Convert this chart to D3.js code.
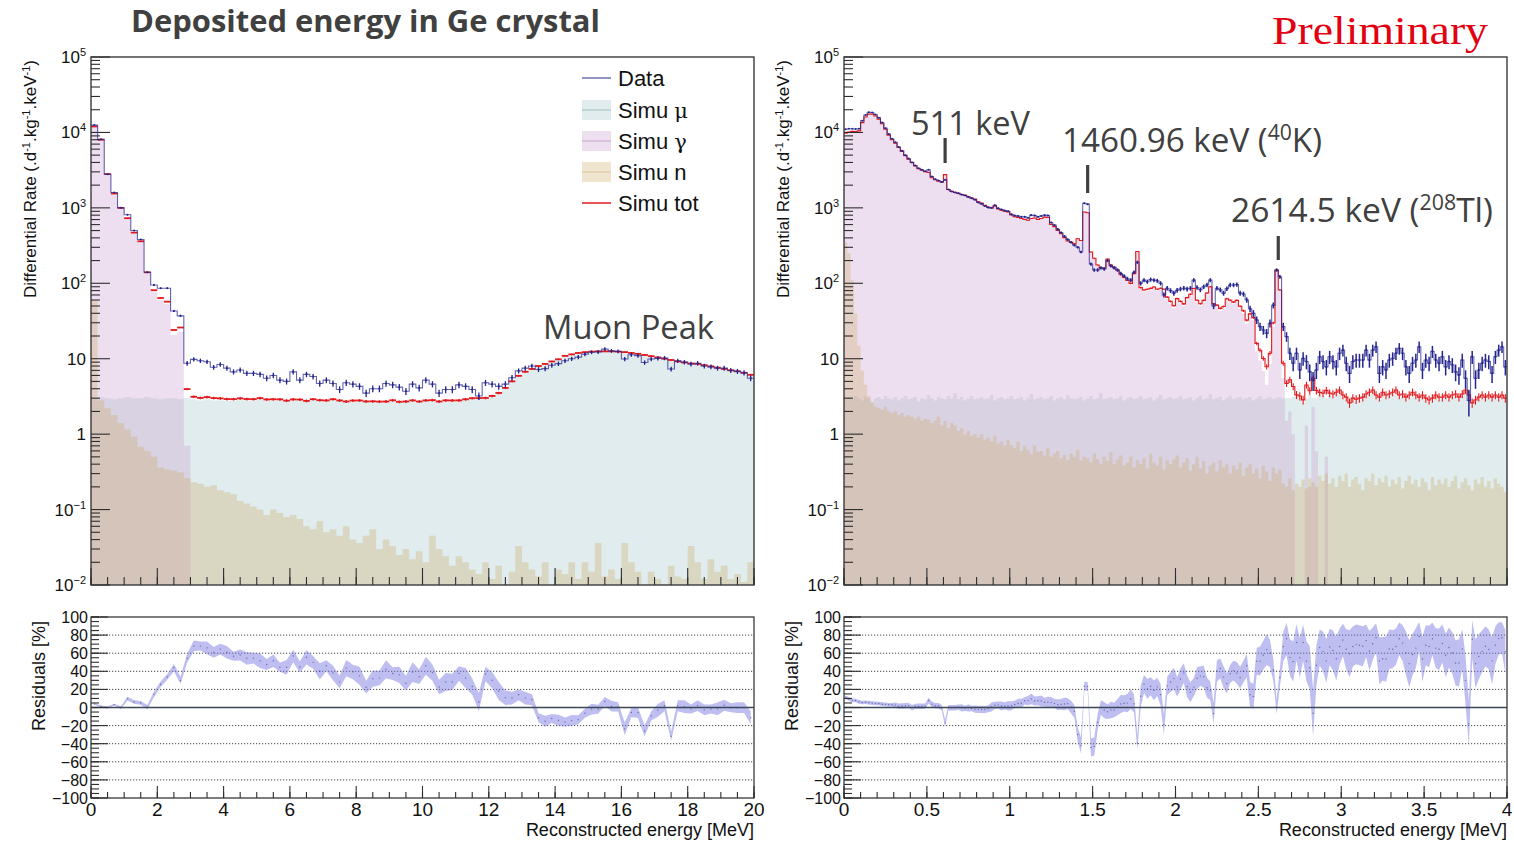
<!DOCTYPE html>
<html><head><meta charset="utf-8">
<script src="https://cdn.jsdelivr.net/npm/d3@7"></script>
<style>
body{margin:0;background:#fff}
svg{display:block;font-family:"Liberation Sans",Arial,sans-serif}
</style>
</head><body>
<svg id="c" width="1514" height="842"></svg>
<script>
// ---- Full range spectrum, 0-20 MeV, 0.2 MeV bins (d^-1 kg^-1 keV^-1) ----
const leftData = [
 12500,8100,2800,1600,1000,810,500,380,140,95,
 86,86,43,37,8.7,9.8,9.4,9.1,7.7,8.4,
 7.5,6.7,7.1,6.4,6.4,6.2,5.5,6.0,5.2,5.0,
 6.7,5.2,6.2,5.8,4.7,5.2,4.7,3.9,4.8,4.6,
 4.3,3.5,4.0,4.0,4.7,4.5,4.2,3.7,4.6,4.1,
 5.2,4.6,3.5,3.9,3.9,4.5,4.3,3.9,3.2,4.8,
 4.6,4.3,4.6,5.6,6.9,7.5,8.0,7.2,7.4,8.2,
 8.6,9.4,10.0,10.5,11.5,12.2,12.3,13.4,12.7,12.5,
 9.9,11.3,11.0,8.9,9.9,10.1,10.2,7.3,9.4,9.0,
 8.5,8.7,8.0,7.8,7.5,7.5,7.0,6.8,6.5,5.5];
const leftMu = [
 3.0,3.1,3.0,2.9,3.0,3.1,3.0,3.0,3.1,3.0,
 2.9,3.0,3.0,2.9,3.0,2.9,2.8,2.9,2.8,2.8,
 2.75,2.75,2.85,2.8,2.8,2.9,2.8,2.8,2.8,2.7,
 2.8,2.8,2.7,2.85,2.75,2.75,2.85,2.75,2.65,2.75,
 2.76,2.67,2.67,2.67,2.67,2.78,2.66,2.68,2.78,2.68,
 2.78,2.78,2.68,2.78,2.78,2.78,2.88,2.98,2.99,3.0,
 3.2,3.5,4.1,5.0,5.9,6.7,7.3,8.0,8.5,9.2,
 9.8,10.9,11.4,11.9,12.2,12.4,12.5,12.5,12.5,12.4,
 12.2,11.9,11.6,11.2,10.8,10.4,10.0,9.6,9.2,8.9,
 8.6,8.5,8.2,7.9,7.6,7.3,7.0,6.8,6.5,6.1];
const leftGamma = [
 11940,7994,2795,1545,996,726,466,357,136,77.5,
 60.6,53.7,20.7,22.7,0.7,0,0,0,0,0,
 0,0,0,0,0,0,0,0,0,0,
 0,0,0,0,0,0,0,0,0,0,
 0,0,0,0,0,0,0,0,0,0,
 0,0,0,0,0,0,0,0,0,0,
 0,0,0,0,0,0,0,0,0,0,
 0,0,0,0,0,0,0,0,0,0,
 0,0,0,0,0,0,0,0,0,0,
 0,0,0,0,0,0,0,0,0,0];
const leftN = [
 60,2.8,2.2,1.8,1.4,1.15,0.93,0.68,0.6,0.5,
 0.36,0.34,0.33,0.31,0.26,0.23,0.22,0.2,0.21,0.18,
 0.17,0.16,0.13,0.12,0.11,0.1,0.085,0.1,0.09,0.08,
 0.085,0.075,0.06,0.055,0.07,0.05,0.055,0.045,0.06,0.04,
 0.036,0.045,0.055,0.03,0.04,0.033,0.025,0.03,0.022,0.028,
 0.02,0.045,0.03,0.024,0.018,0.024,0.02,0.016,0.014,0.02,
 0.012,0.018,0,0.015,0.033,0.02,0.016,0.013,0.02,0,
 0.016,0.014,0.02,0.012,0.02,0.015,0.036,0.013,0.016,0.012,
 0.036,0.02,0.015,0,0.015,0.012,0,0.018,0.013,0.012,
 0.033,0.02,0.012,0.022,0.015,0.018,0.012,0.014,0.011,0.02];
// half-width of the residual band [%]
const leftResErr = [
 1,1,1,1,1.5,2,2,2,2.5,3,
 3,3,4,4,5,6,5,7,6,6,
 7,5,6,7,6,8,6,7,5,8,
 7,6,8,7,9,6,8,7,9,8,
 10,7,9,8,10,7,9,8,11,8,
 10,9,8,10,9,8,11,9,10,8,
 9,10,8,7,6,7,6,5,6,5,
 6,5,6,5,5,6,5,5,6,5,
 7,5,6,6,5,7,6,5,6,7,
 5,6,6,5,7,6,5,6,6,7];

// ---- Low energy spectrum, 0-4 MeV, 20 keV bins ----
const rightData = [
 11000,11200,11200,11100,11200,14300,17000,18500,18400,17300,
 15700,13500,11400,9500,8250,7400,6400,5700,5000,4500,
 4000,3650,3350,3200,3050,3200,2600,2400,2300,2200,
 2350,1750,1650,1600,1560,1500,1460,1400,1340,1280,
 1180,1130,1060,1010,1000,1080,990,950,920,900,
 820,790,780,760,760,740,800,790,760,780,
 800,790,640,590,520,470,420,380,350,320,
 300,260,1150,1120,180,150,150,160,155,200,
 170,160,150,135,125,115,110,140,190,100,
 110,105,112,110,108,100,70,86,80,74,
 81,84,86,84,86,110,88,82,90,95,
 110,50,86,82,74,85,95,95,96,74,
 72,60,46,40,32.6,26.6,24,21.7,29.5,51,
 150,122,26.6,19.6,11.8,8.7,11.8,7.1,10.1,9.2,
 6.7,5.2,7.1,10.6,9.2,7.8,10.6,9.2,7.8,11.8,
 13,8.7,6.4,9.2,9.6,9.6,9.6,13,9.6,13,
 14.4,6.4,7.8,7.1,9.6,10.1,11.8,13.7,11.8,7.8,
 6.4,8.7,9.6,14.4,7.1,9.6,8.7,12.5,9.6,8.7,
 10.6,7.8,9.2,8.3,6.7,6.1,9.6,5.5,2.8,10.6,
 5.5,7.1,8.7,9.6,9.2,6.4,10.6,13,14.4,7.8];
const rightGamma = [
 9400,9900,10200,10200,10480,13490,16000,17500,17500,16500,
 15000,13000,11000,9200,8000,7200,6300,5600,4900,4400,
 4000,3600,3300,3150,3000,2950,2500,2350,2250,2200,
 2750,1750,1650,1600,1550,1500,1470,1400,1350,1300,
 1200,1150,1080,1020,990,1050,960,930,900,880,
 800,760,740,720,700,680,720,730,700,720,
 750,740,600,560,500,450,400,360,345,330,
 386,366,876,856,256,211,171,156,156,206,
 171,161,146,126,116,106,96,131,261,84,
 78,80,82,86,80,82,80,62,54,47,
 59,54,50,61,68,82,56,50,56,71,
 86,50,48,43,46,59,56,53,56,46,
 40,29,36,32,12.6,9.5,6.8,4.5,8.5,26.5,
 146,78,5.5,1.5,2.0,1.0,0,0,0,1.3,
 0.2,2.3,0.6,0,0,0.5,0,0,0,0,
 0,0,0,0,0,0,0,0,0,0,
 0,0,0,0,0,0,0,0,0,0,
 0,0,0,0,0,0,0,0,0,0,
 0,0,0,0,0,0,0,0,0,0,
 0,0,0,0,0,0,0,0,0,0];
const rightMu = [
 3.0,3.1,2.9,3.2,3.0,2.8,3.1,3.0,2.7,3.0,
 3.1,2.9,3.2,3.0,2.9,3.1,2.8,3.0,3.2,2.9,
 3.0,3.1,2.7,3.0,2.9,3.3,3.0,2.8,3.1,3.0,
 2.9,3.2,3.0,3.5,2.9,3.1,2.8,3.0,3.2,2.9,
 3.0,3.1,2.9,3.0,3.3,2.8,3.0,3.1,2.9,3.0,
 3.2,2.9,3.0,3.1,2.8,3.0,3.4,2.9,3.0,3.1,
 2.9,3.0,3.2,2.8,3.0,3.1,2.9,3.3,3.0,2.9,
 3.0,3.1,2.8,3.0,3.2,2.9,3.0,3.5,2.9,3.0,
 3.1,2.9,3.0,3.2,2.8,3.0,3.1,2.9,3.0,3.2,
 2.9,3.0,3.1,2.8,3.0,3.3,2.9,3.0,3.1,2.9,
 3.0,3.2,2.9,3.0,3.1,2.8,3.0,3.2,2.9,3.0,
 3.4,2.9,3.0,3.1,2.8,3.0,3.2,2.9,3.0,3.1,
 2.9,3.0,3.1,2.8,3.0,3.2,2.9,3.0,3.1,2.9,
 3.0,3.1,3.0,3.0,3.0,3.1,3.1,3.0,2.6,3.0,
 3.3,3.0,3.0,3.3,3.25,3.0,3.28,3.14,3.4,3.57,
 3.06,2.8,2.4,2.75,2.63,2.78,2.92,3.14,3.36,3.55,
 3.09,2.84,3.37,3.02,3.2,3.35,3.63,3.03,3.21,2.86,
 3.02,3.38,3.05,2.9,3.04,2.77,2.66,2.73,3.09,2.85,
 2.88,3.04,2.9,3.06,3.12,2.91,3.17,3.59,3.09,2.42,
 2.59,2.88,3.03,2.9,3.06,2.91,3.04,2.88,3.1,2.83];
const rightN = [
 350,250,110,40,15,7,4.5,3.2,2.6,2.3,
 2.2,2.1,2.3,2.0,1.9,2.0,1.8,1.9,1.7,1.8,
 1.7,1.6,1.7,1.5,1.6,1.55,1.4,1.5,1.7,1.3,
 1.5,1.2,1.4,1.3,1.1,1.2,1.0,1.1,0.95,1.0,
 0.9,1.0,0.85,0.9,0.8,0.95,0.75,0.8,0.7,0.85,
 0.72,0.65,0.8,0.6,0.7,0.62,0.55,0.7,0.58,0.6,
 0.52,0.65,0.5,0.55,0.6,0.48,0.53,0.45,0.55,0.5,
 0.62,0.45,0.5,0.48,0.42,0.55,0.47,0.4,0.5,0.44,
 0.58,0.4,0.46,0.52,0.38,0.42,0.5,0.36,0.45,0.4,
 0.48,0.35,0.55,0.42,0.38,0.5,0.34,0.45,0.4,0.46,
 0.52,0.36,0.42,0.48,0.33,0.4,0.5,0.35,0.44,0.3,
 0.38,0.42,0.32,0.45,0.36,0.4,0.3,0.38,0.34,0.42,
 0.28,0.36,0.4,0.3,0.35,0.26,0.38,0.32,0.24,0.36,
 0.3,0.34,0.22,0.2,0.26,0.18,0.22,0.2,0.25,0.19,
 0.26,0.23,0.2,0.28,0.24,0.3,0.22,0.26,0.2,0.28,
 0.24,0.3,0.2,0.25,0.27,0.22,0.18,0.26,0.24,0.3,
 0.21,0.26,0.23,0.28,0.2,0.25,0.22,0.27,0.19,0.24,
 0.28,0.22,0.25,0.2,0.26,0.23,0.18,0.27,0.21,0.25,
 0.22,0.26,0.2,0.24,0.28,0.19,0.23,0.26,0.21,0.18,
 0.25,0.22,0.27,0.2,0.24,0.19,0.26,0.22,0.2,0.17];
const rightResErr = [
 2,2,2,2,2,2,2,2,2,2,
 2,2,2,2,2,3,3,3,3,3,
 3,3,3,3,3,3,3,3,3,3,
 4,3,3,3,3,4,3,4,3,4,
 4,4,4,4,5,4,4,5,4,5,
 5,4,5,5,4,5,6,5,5,6,
 5,6,6,5,6,6,7,6,7,7,
 8,9,5,5,10,10,9,8,9,8,
 9,8,9,10,9,10,11,10,8,12,
 10,11,10,11,10,12,11,10,11,12,
 11,12,11,12,11,10,12,11,12,11,
 10,12,12,11,12,11,10,11,12,12,
 12,13,14,14,15,16,16,17,15,12,
 8,10,16,18,20,22,20,22,20,22,
 24,26,22,20,22,24,20,22,24,20,
 18,22,26,22,22,22,22,18,22,18,
 16,26,24,25,22,21,20,18,20,24,
 26,23,22,16,25,22,23,18,22,23,
 21,24,22,23,25,26,22,27,25,21,
 27,25,23,22,22,26,21,18,17,24];

// ---- axis ticks and labels ----
const leftXTicks = [0,2,4,6,8,10,12,14,16,18,20];
const rightXTicks = [0,0.5,1,1.5,2,2.5,3,3.5,4];
const decadeExps = [-2,-1,0,1,2,3,4,5];
const residualTicks = [-100,-80,-60,-40,-20,0,20,40,60,80,100];
const legendLabels = [["Data"],["Simu ","\u03bc"],["Simu ","\u03b3"],["Simu n"],["Simu tot"]];
const peakLabels = [
 {e:0.61, parts:[["511 keV"]]},
 {e:1.47, parts:[["1460.96 keV ("],["40","sup"],["K)"]]},
 {e:2.62, parts:[["2614.5 keV ("],["208","sup"],["Tl)"]]}
];

const exposure = 0.12;     // kg.d, sets the Poisson error of the data
const simExposure = 1.0;   // kg.d equivalent of the simulated sample

const fills = {
  mu:    {color:"rgb(130,180,185)", alpha:0.25, line:"#9fbfc2"},
  gamma: {color:"rgb(200,150,205)", alpha:0.30, line:"#c3a3c9"},
  n:     {color:"rgb(200,160,80)",  alpha:0.28, line:"#d7c59c"}
};
const dataColor = "#25258f", totColor = "#e3191d";
const annotFont = "'Open Sans','Noto Sans',sans-serif";

const mainTop = 57, mainBottom = 585, resTop = 617, resBottom = 798;
const svg = d3.select("#c");
const defs = svg.append("defs");

function fillPath(vals, bw, x, y) {
  const bottom = y.range()[0];
  let d = "", open = false;
  vals.forEach((v, i) => {
    const xa = x(i * bw), xb = x((i + 1) * bw);
    if (v > 0) {
      const yy = y(Math.max(v, 1e-3));
      if (!open) { d += `M${xa},${bottom}L${xa},${yy}`; open = true; }
      else d += `L${xa},${yy}`;
      d += `L${xb},${yy}`;
    } else if (open) { d += `L${xa},${bottom}Z`; open = false; }
  });
  if (open) d += `L${x(vals.length * bw)},${bottom}Z`;
  return d;
}

function decadeLabel(t, k) {
  if (k === 0) t.text("1");
  else if (k === 1) t.text("10");
  else {
    t.append("tspan").text("10");
    t.append("tspan").attr("dy", -7).attr("font-size", 11).text(k < 0 ? "\u2212" + (-k) : String(k));
  }
}

function drawPanel(p) {
  const x = d3.scaleLinear().domain([0, p.emax]).range([p.x0, p.x1]);
  const y = d3.scaleLog().domain([1e-2, 1e5]).range([mainBottom, mainTop]);
  const yr = d3.scaleLinear().domain([-100, 100]).range([resBottom, resTop]);
  const tot = p.mu.map((m, i) => m + p.gamma[i] + p.n[i]);
  const bwKeV = p.bw * 1000;
  const dErr = v => v > 0 ? 1 / Math.sqrt(v * bwKeV * exposure) : 0;
  const sErr = v => v > 0 ? 1 / Math.sqrt(v * bwKeV * simExposure) : 0;

  defs.append("clipPath").attr("id", "m" + p.key).append("rect")
    .attr("x", p.x0).attr("y", mainTop).attr("width", p.x1 - p.x0).attr("height", mainBottom - mainTop);
  defs.append("clipPath").attr("id", "r" + p.key).append("rect")
    .attr("x", p.x0).attr("y", resTop).attr("width", p.x1 - p.x0).attr("height", resBottom - resTop);

  // --- transparent component fills ---
  const g = svg.append("g").attr("clip-path", `url(#m${p.key})`);
  [[p.mu, fills.mu], [p.gamma, fills.gamma], [p.n, fills.n]].forEach(([vals, f]) => {
    g.append("path").attr("d", fillPath(vals, p.bw, x, y))
      .attr("fill", f.color).attr("fill-opacity", f.alpha);
  });

  // --- simulated total ---
  const tg = g.append("g").attr("stroke", totColor);
  if (p.totStep) {
    const pts = tot.map((v, i) => [x(i * p.bw), y(v)]);
    pts.push([x(tot.length * p.bw), y(tot[tot.length - 1])]);
    tg.append("path").attr("d", d3.line().curve(d3.curveStepAfter)(pts))
      .attr("fill", "none").attr("stroke-width", 1.1);
  } else {
    tg.selectAll(null).data(tot).join("line")
      .attr("x1", (v, i) => x(i * p.bw)).attr("x2", (v, i) => x((i + 1) * p.bw))
      .attr("y1", v => y(v)).attr("y2", v => y(v)).attr("stroke-width", 1.8);
  }
  tg.selectAll(null).data(tot).join("line")
    .attr("x1", (v, i) => x((i + 0.5) * p.bw)).attr("x2", (v, i) => x((i + 0.5) * p.bw))
    .attr("y1", v => y(v * (1 + sErr(v)))).attr("y2", v => y(Math.max(v * (1 - sErr(v)), 1e-3)))
    .attr("stroke-width", p.totStep ? 1.1 : 1.4);

  // --- measured data ---
  const dpts = p.data.map((v, i) => [x(i * p.bw), y(v)]);
  dpts.push([x(p.data.length * p.bw), y(p.data[p.data.length - 1])]);
  g.append("path").attr("d", d3.line().curve(d3.curveStepAfter)(dpts))
    .attr("fill", "none").attr("stroke", dataColor).attr("stroke-opacity", 0.7).attr("stroke-width", 1.1);
  g.append("g").attr("stroke", dataColor).selectAll(null).data(p.data).join("line")
    .attr("x1", (v, i) => x((i + 0.5) * p.bw)).attr("x2", (v, i) => x((i + 0.5) * p.bw))
    .attr("y1", v => y(v * (1 + dErr(v)))).attr("y2", v => y(Math.max(v * (1 - dErr(v)), 1e-3)))
    .attr("stroke-width", p.totStep ? 1.5 : 1.3);
  g.append("g").attr("fill", dataColor).selectAll(null).data(p.data).join("circle")
    .attr("cx", (v, i) => x((i + 0.5) * p.bw)).attr("cy", v => y(v)).attr("r", 1);

  // --- main frame and axes ---
  svg.append("rect").attr("x", p.x0).attr("y", mainTop).attr("width", p.x1 - p.x0)
    .attr("height", mainBottom - mainTop).attr("fill", "none").attr("stroke", "#3a3a3a").attr("stroke-width", 1.4);
  const ax = svg.append("g").attr("stroke", "#2e2e2e").attr("stroke-width", 1.1);
  const minors = d3.range(0, p.emax + 1e-9, p.xMinor);
  ax.selectAll(null).data(minors).join("line")
    .attr("x1", d => x(d)).attr("x2", d => x(d)).attr("y1", mainBottom).attr("y2", mainBottom - 8);
  ax.selectAll(null).data(p.xTicks).join("line")
    .attr("x1", d => x(d)).attr("x2", d => x(d)).attr("y1", mainBottom).attr("y2", mainBottom - 17);
  const logMinor = [];
  decadeExps.slice(0, -1).forEach(k => { for (let m = 2; m <= 9; m++) logMinor.push(m * Math.pow(10, k)); });
  ax.selectAll(null).data(logMinor).join("line")
    .attr("x1", p.x0).attr("x2", p.x0 + 9).attr("y1", d => y(d)).attr("y2", d => y(d));
  ax.selectAll(null).data(decadeExps).join("line")
    .attr("x1", p.x0).attr("x2", p.x0 + 19).attr("y1", k => y(Math.pow(10, k))).attr("y2", k => y(Math.pow(10, k)));
  decadeExps.forEach(k => {
    const t = svg.append("text").attr("x", p.x0 - 5).attr("y", y(Math.pow(10, k)) + 6)
      .attr("text-anchor", "end").attr("font-size", 17).attr("fill", "#111");
    decadeLabel(t, k);
  });
  const yt = svg.append("text").attr("transform", `translate(${p.x0 - 55},${179}) rotate(-90)`)
    .attr("text-anchor", "middle").attr("font-size", 17).attr("fill", "#111");
  [["Differential Rate (.d"], ["-1", 1], [".kg"], ["-1", 1], [".keV"], ["-1", 1], [")"]].forEach(([s, sup], i, arr) => {
    const ts = yt.append("tspan").text(s);
    if (sup) ts.attr("dy", -6).attr("font-size", 11);
    else if (i > 0 && arr[i - 1][1]) ts.attr("dy", 6);
  });

  // --- residuals ---
  const res = p.data.map((d, i) => ({c: (i + 0.5) * p.bw, r: (d - tot[i]) / d * 100, e: p.resErr[i]}));
  const rg = svg.append("g");
  rg.selectAll(null).data(residualTicks.filter(v => v !== 0 && Math.abs(v) !== 100)).join("line")
    .attr("x1", p.x0).attr("x2", p.x1).attr("y1", d => yr(d)).attr("y2", d => yr(d))
    .attr("stroke", "#444").attr("stroke-width", 1).attr("stroke-dasharray", "1.2,1.8");
  rg.append("g").attr("clip-path", `url(#r${p.key})`).append("path")
    .attr("d", d3.area().x(d => x(d.c)).y0(d => yr(d.r - d.e)).y1(d => yr(d.r + d.e))(res))
    .attr("fill", "rgb(120,120,225)").attr("fill-opacity", 0.48);
  rg.append("g").attr("clip-path", `url(#r${p.key})`).selectAll(null).data(res).join("circle")
    .attr("cx", d => x(d.c)).attr("cy", d => yr(d.r)).attr("r", 0.7).attr("fill", "#303080").attr("opacity", 0.6);
  rg.append("line").attr("x1", p.x0).attr("x2", p.x1).attr("y1", yr(0)).attr("y2", yr(0))
    .attr("stroke", "#3b4858").attr("stroke-width", 1.6);
  svg.append("rect").attr("x", p.x0).attr("y", resTop).attr("width", p.x1 - p.x0)
    .attr("height", resBottom - resTop).attr("fill", "none").attr("stroke", "#3a3a3a").attr("stroke-width", 1.3);
  const rax = svg.append("g").attr("stroke", "#2e2e2e").attr("stroke-width", 1.1);
  rax.selectAll(null).data(minors).join("line")
    .attr("x1", d => x(d)).attr("x2", d => x(d)).attr("y1", resBottom).attr("y2", resBottom - 6);
  rax.selectAll(null).data(p.xTicks).join("line")
    .attr("x1", d => x(d)).attr("x2", d => x(d)).attr("y1", resBottom).attr("y2", resBottom - 12);
  rax.selectAll(null).data(d3.range(-100, 100.1, 5)).join("line")
    .attr("x1", p.x0).attr("x2", p.x0 + 8).attr("y1", d => yr(d)).attr("y2", d => yr(d));
  rax.selectAll(null).data(residualTicks).join("line")
    .attr("x1", p.x0).attr("x2", p.x0 + 17).attr("y1", d => yr(d)).attr("y2", d => yr(d));
  svg.append("g").selectAll(null).data(residualTicks).join("text")
    .attr("x", p.x0 - 3).attr("y", d => yr(d) + 6).attr("text-anchor", "end")
    .attr("font-size", 16).attr("fill", "#111").text(d => d < 0 ? "\u2212" + (-d) : String(d));
  svg.append("g").selectAll(null).data(p.xTicks).join("text")
    .attr("x", d => x(d)).attr("y", resBottom + 18).attr("text-anchor", "middle")
    .attr("font-size", 19).attr("fill", "#111").text(d => String(d));
  svg.append("text").attr("x", p.x1).attr("y", 836).attr("text-anchor", "end")
    .attr("font-size", 18).attr("fill", "#111").text("Reconstructed energy [MeV]");
  svg.append("text").attr("transform", `translate(${p.x0 - 46},${676}) rotate(-90)`)
    .attr("text-anchor", "middle").attr("font-size", 18).attr("fill", "#111").text("Residuals [%]");

  return {x, y};
}

const L = drawPanel({key: "L", x0: 91, x1: 754, emax: 20, bw: 0.2, data: leftData, mu: leftMu,
  gamma: leftGamma, n: leftN, resErr: leftResErr, xTicks: leftXTicks, xMinor: 0.5, totStep: false});
const R = drawPanel({key: "R", x0: 844, x1: 1507, emax: 4, bw: 0.02, data: rightData, mu: rightMu,
  gamma: rightGamma, n: rightN, resErr: rightResErr, xTicks: rightXTicks, xMinor: 0.1, totStep: true});

// --- legend ---
const lg = svg.append("g");
const legY = [78, 110, 141, 172, 203];
legendLabels.forEach((lab, i) => {
  const yy = legY[i];
  if (i === 0 || i === 4) {
    lg.append("line").attr("x1", 582).attr("x2", 611).attr("y1", yy).attr("y2", yy)
      .attr("stroke", i === 0 ? "#7070b0" : totColor).attr("stroke-width", 1.5);
  } else {
    const f = [fills.mu, fills.gamma, fills.n][i - 1];
    lg.append("rect").attr("x", 582).attr("y", yy - 10).attr("width", 29).attr("height", 20)
      .attr("fill", f.color).attr("fill-opacity", f.alpha);
    lg.append("line").attr("x1", 582).attr("x2", 611).attr("y1", yy).attr("y2", yy)
      .attr("stroke", f.line).attr("stroke-width", 1);
  }
  const t = lg.append("text").attr("x", 618).attr("y", yy + 8).attr("font-size", 22).attr("fill", "#111");
  t.append("tspan").text(lab[0]);
  if (lab[1]) t.append("tspan").style("font-family", "'DejaVu Serif',serif").attr("font-size", 21).text(lab[1]);
});

// --- titles and annotations ---
svg.append("text").attr("x", 131).attr("y", 32).style("font-family", annotFont)
  .attr("font-weight", 700).attr("font-size", 31).attr("fill", "#404040")
  .attr("textLength", 469).attr("lengthAdjust", "spacingAndGlyphs").text("Deposited energy in Ge crystal");
svg.append("text").attr("x", 1272).attr("y", 44).style("font-family", "'Liberation Serif','DejaVu Serif',serif")
  .attr("font-size", 40).attr("fill", "#e30010")
  .attr("textLength", 216).attr("lengthAdjust", "spacingAndGlyphs").text("Preliminary");
svg.append("text").attr("x", 543).attr("y", 339).style("font-family", annotFont)
  .attr("font-size", 33).attr("fill", "#404040")
  .attr("textLength", 171).attr("lengthAdjust", "spacingAndGlyphs").text("Muon Peak");

const peakLayout = [
  {tx: 911, ty: 135, len: 119, m0: 138, m1: 163},
  {tx: 1062, ty: 152, len: 260, m0: 165, m1: 193},
  {tx: 1231, ty: 222, len: 262, m0: 236, m1: 260}
];
peakLabels.forEach((pk, i) => {
  const lay = peakLayout[i];
  const t = svg.append("text").attr("x", lay.tx).attr("y", lay.ty)
    .style("font-family", annotFont).attr("font-size", 33).attr("fill", "#404040")
    .attr("textLength", lay.len).attr("lengthAdjust", "spacingAndGlyphs");
  pk.parts.forEach(([s, kind], j) => {
    const ts = t.append("tspan").text(s);
    if (kind === "sup") ts.attr("dy", -12).attr("font-size", 21);
    else if (j > 0 && pk.parts[j - 1][1] === "sup") ts.attr("dy", 12);
  });
  svg.append("line").attr("x1", R.x(pk.e)).attr("x2", R.x(pk.e)).attr("y1", lay.m0).attr("y2", lay.m1)
    .attr("stroke", "#404040").attr("stroke-width", 3.2);
});
</script>
</body></html>
